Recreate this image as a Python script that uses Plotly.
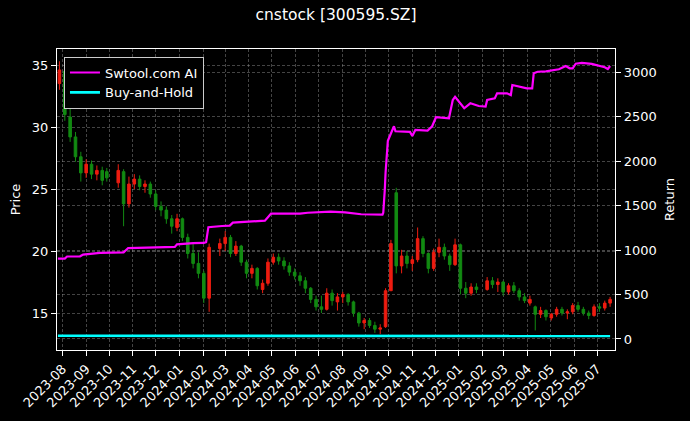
import plotly.graph_objects as go

# ---------------- data ----------------
week_dates = [
    "2023-07-28", "2023-08-04", "2023-08-11", "2023-08-18", "2023-08-25", "2023-09-01", "2023-09-08",
    "2023-09-15", "2023-09-22", "2023-09-28", "2023-10-13", "2023-10-20", "2023-10-27", "2023-11-03",
    "2023-11-10", "2023-11-17", "2023-11-24", "2023-12-01", "2023-12-08", "2023-12-15", "2023-12-22",
    "2023-12-29", "2024-01-05", "2024-01-12", "2024-01-19", "2024-01-26", "2024-02-02", "2024-02-09",
    "2024-02-23", "2024-03-01", "2024-03-08", "2024-03-15", "2024-03-22", "2024-03-29", "2024-04-05",
    "2024-04-12", "2024-04-19", "2024-04-26", "2024-05-03", "2024-05-10", "2024-05-17", "2024-05-24",
    "2024-05-31", "2024-06-07", "2024-06-14", "2024-06-21", "2024-06-28", "2024-07-05", "2024-07-12",
    "2024-07-19", "2024-07-26", "2024-08-02", "2024-08-09", "2024-08-16", "2024-08-23", "2024-08-30",
    "2024-09-06", "2024-09-13", "2024-09-20", "2024-09-27", "2024-10-04", "2024-10-11", "2024-10-18",
    "2024-10-25", "2024-11-01", "2024-11-08", "2024-11-15", "2024-11-22", "2024-11-29", "2024-12-06",
    "2024-12-13", "2024-12-20", "2024-12-27", "2025-01-03", "2025-01-10", "2025-01-17", "2025-01-24",
    "2025-02-07", "2025-02-14", "2025-02-21", "2025-02-28", "2025-03-07", "2025-03-14", "2025-03-21",
    "2025-03-28", "2025-04-04", "2025-04-11", "2025-04-18", "2025-04-25", "2025-05-02", "2025-05-09",
    "2025-05-16", "2025-05-23", "2025-05-30", "2025-06-06", "2025-06-13", "2025-06-20", "2025-06-27",
    "2025-07-04", "2025-07-11", "2025-07-18",
]
open_px = [
    33.5, 34.5, 30.8, 29.2, 27.6, 26.3, 27.0, 26.2, 26.5, 26.4, 25.5, 26.4, 23.8, 25.4,
    25.8, 25.2, 25.4, 24.6, 23.6, 23.3, 22.6, 21.9, 22.6, 21.1, 19.8, 19.0, 18.2, 16.2,
    20.2, 20.6, 21.1, 19.8, 20.4, 19.1, 18.2, 18.6, 16.9, 17.4, 19.1, 19.5, 19.2, 18.8,
    18.3, 18.0, 17.6, 17.0, 16.1, 15.5, 15.3, 16.6, 15.9, 16.3, 16.5, 15.9, 15.0, 14.2,
    14.4, 14.0, 13.7, 13.9, 16.8, 24.7, 18.8, 19.6, 19.0, 19.3, 21.0, 19.8, 18.6, 19.9,
    20.3, 19.6, 18.9, 20.5, 17.0, 16.6, 17.1, 16.9, 17.6, 17.3, 17.5, 16.7, 17.2, 16.8,
    16.3, 15.8, 15.5, 14.9, 15.2, 14.6, 14.9, 15.3, 15.0, 15.1, 15.6, 15.3, 15.0, 14.8,
    15.5, 15.4, 15.8,
]
high_px = [
    35.3, 35.0, 32.3, 29.6, 28.0, 27.4, 27.3, 26.9, 26.8, 26.7, 27.0, 26.6, 26.0, 26.2,
    26.1, 25.7, 25.6, 24.9, 24.0, 23.6, 22.9, 23.0, 22.7, 21.4, 20.6, 19.9, 18.4, 20.6,
    21.0, 21.6, 21.3, 20.8, 20.5, 19.3, 18.9, 18.7, 17.7, 19.4, 19.8, 19.8, 19.5, 19.1,
    18.6, 18.3, 17.9, 17.1, 16.4, 16.4, 17.0, 16.9, 16.6, 16.7, 16.6, 16.0, 15.1, 14.6,
    14.6, 14.3, 14.1, 17.0, 20.9, 25.1, 20.1, 20.0, 19.6, 21.9, 21.2, 19.9, 20.2, 21.0,
    20.6, 19.8, 21.0, 20.6, 17.5, 17.4, 17.4, 17.9, 17.9, 17.8, 17.6, 17.4, 17.5, 17.0,
    16.6, 16.4, 15.6, 15.5, 15.3, 15.0, 15.5, 15.5, 15.3, 15.8, 15.9, 15.5, 15.2, 15.7,
    15.8, 16.0, 16.3,
]
low_px = [
    33.0, 30.5, 28.8, 27.2, 25.6, 25.9, 25.8, 25.7, 25.3, 25.6, 25.1, 22.0, 23.5, 25.0,
    24.9, 24.7, 24.3, 23.3, 22.8, 22.2, 21.4, 21.6, 20.8, 19.4, 18.6, 17.8, 15.8, 15.1,
    19.6, 20.0, 19.5, 19.6, 18.8, 17.8, 17.8, 16.9, 16.6, 17.2, 18.9, 18.9, 18.5, 18.0,
    17.7, 17.2, 16.6, 15.8, 15.2, 15.0, 15.2, 15.6, 15.2, 15.8, 15.6, 14.7, 13.9, 13.7,
    13.8, 13.4, 13.3, 13.8, 16.8, 18.2, 18.2, 18.6, 18.4, 19.1, 19.5, 18.2, 18.4, 19.5,
    19.3, 18.4, 18.8, 16.5, 16.2, 16.4, 16.6, 16.8, 17.0, 16.7, 16.4, 16.5, 16.6, 16.0,
    15.8, 15.6, 13.6, 14.6, 14.4, 14.4, 14.7, 14.8, 14.5, 14.9, 15.1, 14.8, 14.5, 14.7,
    15.1, 15.2, 15.5,
]
close_px = [
    34.6, 31.0, 29.2, 27.6, 26.3, 27.0, 26.2, 26.5, 25.7, 25.9, 26.5, 23.8, 25.4, 25.8,
    25.2, 25.4, 24.6, 23.6, 23.3, 22.6, 22.0, 22.6, 21.1, 19.8, 19.0, 18.2, 16.2, 20.3,
    20.6, 21.1, 19.8, 20.4, 19.1, 18.2, 18.6, 17.2, 17.4, 19.1, 19.5, 19.2, 18.8, 18.3,
    18.0, 17.6, 17.0, 16.1, 15.5, 15.3, 16.6, 16.0, 16.3, 16.5, 15.9, 15.0, 14.2, 14.4,
    14.0, 13.7, 13.8, 16.8, 20.6, 18.8, 19.6, 19.0, 19.3, 21.0, 19.8, 18.6, 19.9, 20.3,
    19.6, 18.9, 20.5, 17.0, 16.6, 17.1, 16.9, 17.6, 17.3, 17.5, 16.7, 17.2, 16.8, 16.3,
    16.0, 16.1, 14.9, 15.2, 14.7, 14.9, 15.3, 15.0, 15.1, 15.6, 15.3, 15.0, 14.8, 15.5,
    15.4, 15.8, 16.1,
]

ai_dates = [
    "2023-07-26", "2023-08-04", "2023-08-07", "2023-08-24", "2023-08-28", "2023-09-19", "2023-10-20",
    "2023-10-26", "2023-12-26", "2023-12-29", "2024-01-19", "2024-02-02", "2024-02-05", "2024-02-08",
    "2024-02-26", "2024-03-07", "2024-03-11", "2024-04-22", "2024-04-26", "2024-04-30", "2024-06-07",
    "2024-06-17", "2024-07-17", "2024-08-05", "2024-08-26", "2024-09-23", "2024-09-24", "2024-09-25",
    "2024-09-26", "2024-09-27", "2024-09-30", "2024-10-08", "2024-10-10", "2024-10-29", "2024-11-01",
    "2024-11-05", "2024-11-21", "2024-11-27", "2024-12-02", "2024-12-19", "2024-12-24", "2024-12-27",
    "2025-01-08", "2025-01-16", "2025-01-27", "2025-02-05", "2025-02-07", "2025-02-17", "2025-02-20",
    "2025-03-05", "2025-03-10", "2025-03-12", "2025-03-24", "2025-03-31", "2025-04-07", "2025-04-09",
    "2025-04-14", "2025-04-25", "2025-05-12", "2025-05-21", "2025-05-26", "2025-05-30", "2025-06-03",
    "2025-06-11", "2025-06-24", "2025-07-03", "2025-07-11", "2025-07-15", "2025-07-18",
]
ai_return = [
    905, 905, 928, 930, 950, 968, 975,
    1023, 1035, 1065, 1078, 1080, 1090, 1258,
    1271, 1275, 1309, 1331, 1370, 1410, 1410,
    1420, 1432, 1425, 1403, 1400, 1420, 1520,
    1680, 1870, 2230, 2393, 2337, 2330, 2283,
    2351, 2345, 2393, 2494, 2483, 2688, 2725,
    2595, 2651, 2621, 2614, 2688, 2707, 2763,
    2763, 2744, 2857, 2838, 2820, 2820, 2988,
    3006, 3010, 3034, 3071, 3045, 3045, 3097,
    3105, 3095, 3075, 3056, 3037, 3071,
]

bh_dates = ["2023-07-26", "2024-02-05", "2024-09-20", "2024-10-08", "2025-07-18"]
bh_return = [36, 33, 31, 35, 33]

month_ticks = [
    "2023-08-01", "2023-09-01", "2023-10-01", "2023-11-01", "2023-12-01", "2024-01-01",
    "2024-02-01", "2024-03-01", "2024-04-01", "2024-05-01", "2024-06-01", "2024-07-01",
    "2024-08-01", "2024-09-01", "2024-10-01", "2024-11-01", "2024-12-01", "2025-01-01",
    "2025-02-01", "2025-03-01", "2025-04-01", "2025-05-01", "2025-06-01", "2025-07-01",
]
month_labels = [d[:7] for d in month_ticks]

# ---------------- figure ----------------
FONT = "DejaVu Sans"
GRID = "rgba(150,150,150,0.45)"
DASH = "3px,2px"

fig = go.Figure()
fig.add_trace(go.Candlestick(
    x=week_dates, open=open_px, high=high_px, low=low_px, close=close_px,
    increasing=dict(line=dict(color="#ee1c10", width=1), fillcolor="#ee1c10"),
    decreasing=dict(line=dict(color="#128a12", width=1), fillcolor="#128a12"),
    showlegend=False, yaxis="y", name="Price",
))
fig.add_trace(go.Scatter(
    x=ai_dates, y=ai_return, mode="lines", name="Swtool.com AI",
    line=dict(color="#ff00ff", width=2.2), yaxis="y2",
))
fig.add_trace(go.Scatter(
    x=bh_dates, y=bh_return, mode="lines", name="Buy-and-Hold",
    line=dict(color="#00ffff", width=2.6), yaxis="y2",
))

fig.update_layout(
    width=690, height=421,
    paper_bgcolor="black", plot_bgcolor="black",
    font=dict(family=FONT, color="white", size=13),
    margin=dict(l=57, r=75, t=49, b=71, autoexpand=False),
    boxgap=0.2,
    title=dict(text="cnstock [300595.SZ]", x=0.487, xanchor="center", y=0.965, yanchor="middle",
               font=dict(size=15.5, color="white", family=FONT)),
    showlegend=True,
    legend=dict(x=0.0125, y=0.975, xanchor="left", yanchor="top",
                bgcolor="black", bordercolor="#cccccc", borderwidth=1,
                font=dict(size=13, color="white", family=FONT),
                tracegroupgap=2, itemwidth=30),
    xaxis=dict(
        type="date", range=["2023-07-24 19:00", "2025-07-24 10:00"],
        tickvals=month_ticks, ticktext=month_labels, tickangle=-45,
        ticks="outside", ticklen=5, tickcolor="white", tickfont=dict(size=13, color="white"),
        showgrid=True, gridcolor=GRID, griddash=DASH, gridwidth=0.7,
        showline=True, linecolor="white", linewidth=1.2, mirror=True,
        rangeslider=dict(visible=False), zeroline=False, automargin=False,
    ),
    yaxis=dict(
        range=[12.02, 36.29], tickvals=[15, 20, 25, 30, 35],
        ticks="outside", ticklen=5, tickcolor="white", tickfont=dict(size=13, color="white"),
        showgrid=True, gridcolor=GRID, griddash=DASH, gridwidth=0.7,
        showline=True, linecolor="white", linewidth=1.2, mirror=True, zeroline=False,
        automargin=False,
        title=dict(text="Price", standoff=8, font=dict(size=13, color="white")),
    ),
    yaxis2=dict(
        overlaying="y", side="right", range=[-124, 3262],
        tickvals=[0, 500, 1000, 1500, 2000, 2500, 3000],
        ticks="outside", ticklen=5, tickcolor="white", tickfont=dict(size=13, color="white"),
        showgrid=True, gridcolor=GRID, griddash=DASH, gridwidth=0.7,
        showline=True, linecolor="white", linewidth=1.2, zeroline=False,
        automargin=False,
        title=dict(text="Return", standoff=9, font=dict(size=13, color="white")),
    ),
)

# remove the browser's default page margin so the 690x421 figure sits at (0, 0)
fig.write_html(
    "out.html",
    config={"displayModeBar": False},
    post_script="document.body.style.margin='0';document.body.style.background='black';",
)
